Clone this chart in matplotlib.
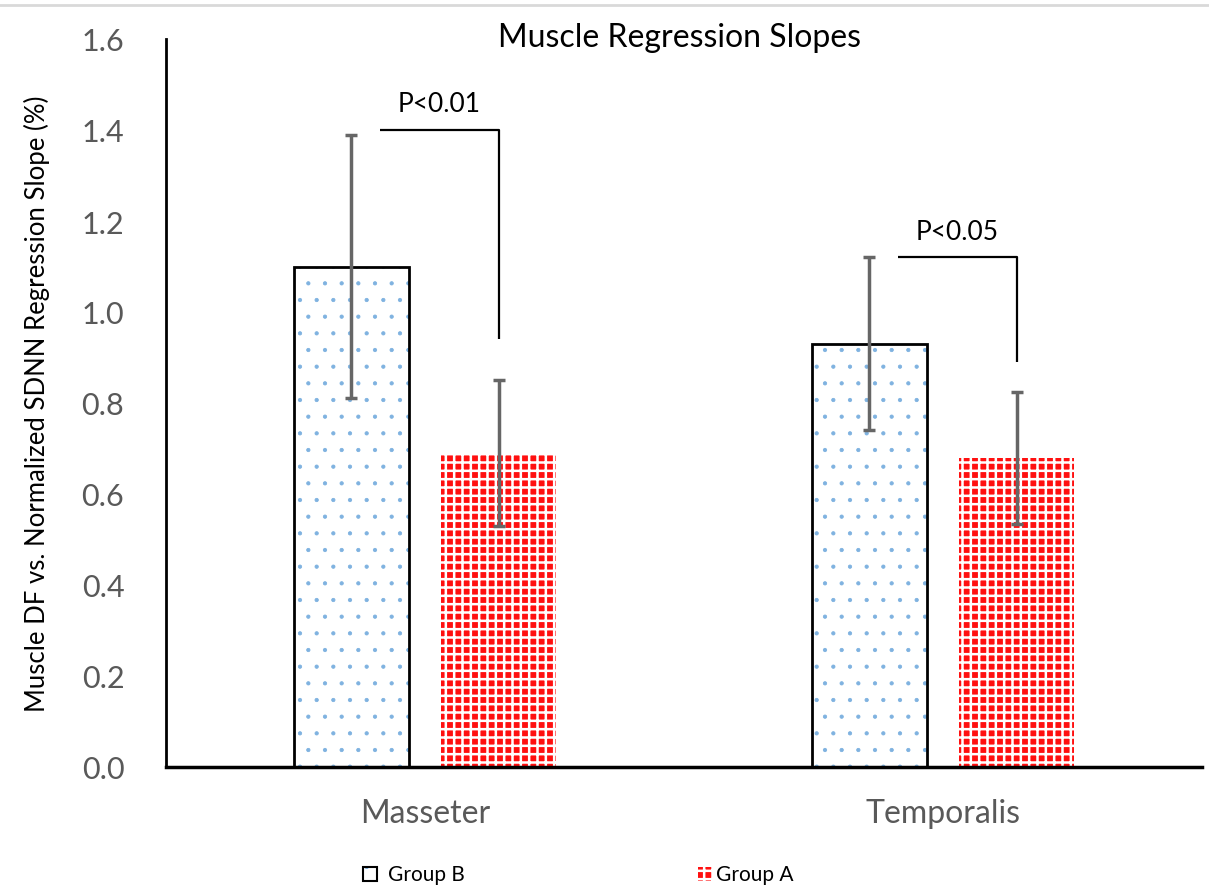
import matplotlib
matplotlib.use("Agg")
import matplotlib.pyplot as plt
from matplotlib.patches import Rectangle
from matplotlib.lines import Line2D
import numpy as np

plt.rcParams['font.family'] = ['Lato', 'DejaVu Sans']

# Data
categories = ["Masseter", "Temporalis"]
group_b = [1.10, 0.93]
group_b_err = [0.29, 0.19]
group_a = [0.69, 0.68]
group_a_err = [0.16, 0.145]
p_labels = ["P<0.01", "P<0.05"]
bracket_y = [1.40, 1.12]
bracket_end = [0.94, 0.89]
yticks = [0.0, 0.2, 0.4, 0.6, 0.8, 1.0, 1.2, 1.4, 1.6]

W, H = 1209, 895
fig = plt.figure(figsize=(W / 100, H / 100), dpi=100)
fig.patch.set_facecolor('white')
ax = fig.add_axes([166 / W, 1 - 768 / H, (1202 - 166) / W, (768 - 40) / H])

x = np.arange(len(categories))
bw = 0.222
off = 0.142
xb = x - off
xa = x + off

blue_dot = '#7fb2e0'
red = '#ff1010'
err_col = '#666666'


def set_hlw(patches, lw):
    for p in patches:
        if hasattr(p, 'set_hatch_linewidth'):
            p.set_hatch_linewidth(lw)


# Group B: white bars with blue dot texture and black outline
with plt.rc_context({'hatch.linewidth': 0.6}):
    bars_b = ax.bar(xb, group_b, bw, color='white', edgecolor=blue_dot, hatch='.',
                    linewidth=0, zorder=2)
set_hlw(bars_b, 0.6)
ax.bar(xb, group_b, bw, color='none', edgecolor='black', linewidth=2.0, zorder=3)
# Group A: red bars with white cross texture
with plt.rc_context({'hatch.linewidth': 1.8}):
    bars_a = ax.bar(xa, group_a, bw, color=red, edgecolor='white', hatch='++',
                    linewidth=0, zorder=2)
set_hlw(bars_a, 1.8)

ax.errorbar(xb, group_b, yerr=group_b_err, fmt='none', ecolor=err_col, elinewidth=2.5,
            capsize=4, capthick=2.5, zorder=4)
ax.errorbar(xa, group_a, yerr=group_a_err, fmt='none', ecolor=err_col, elinewidth=2.5,
            capsize=4, capthick=2.5, zorder=4)

# Significance brackets
for i in range(len(categories)):
    x0 = xb[i] + 0.055
    x1 = xa[i]
    ax.plot([x0, x1, x1], [bracket_y[i], bracket_y[i], bracket_end[i]], color='black',
            lw=1.6, zorder=5, solid_capstyle='butt')
    ax.text((x0 + x1) / 2, bracket_y[i] + 0.03, p_labels[i], ha='center', va='bottom',
            fontsize=19, color='black')

ax.set_xlim(-0.5, 1.5)
ax.set_ylim(0, 1.6)
ax.set_yticks(yticks)
ax.set_yticklabels([f"{v:.1f}" for v in yticks])
ax.set_xticks(x)
ax.set_xticklabels(categories)
ax.tick_params(axis='y', length=0, labelsize=22, labelcolor='#595959', pad=30)
ax.tick_params(axis='x', length=0, labelsize=23, labelcolor='#595959', pad=22)
for s in ['top', 'right']:
    ax.spines[s].set_visible(False)
ax.spines['left'].set_linewidth(2.0)
ax.spines['bottom'].set_linewidth(2.5)

ax.set_ylabel("Muscle DF vs. Normalized SDNN Regression Slope (%)", fontsize=18.5,
              color='black')
ax.yaxis.set_label_coords(-0.112, 0.5)

fig.text(680 / W, 1 - 38 / H, "Muscle Regression Slopes", ha='center', va='center',
         fontsize=23, color='black')

# Legend drawn in figure coordinates
sq = 14
leg_b = Rectangle((363 / W, 1 - 882 / H), sq / W, sq / H, transform=fig.transFigure,
                  facecolor='white', edgecolor=blue_dot, hatch='.', lw=0)
fig.patches.append(leg_b)
fig.patches.append(Rectangle((363 / W, 1 - 882 / H), sq / W, sq / H, transform=fig.transFigure,
                             facecolor='none', edgecolor='black', lw=1.5))
fig.text(388 / W, 1 - 875 / H, "Group B", ha='left', va='center', fontsize=15, color='black')
with plt.rc_context({'hatch.linewidth': 1.8}):
    leg_a = Rectangle((698 / W, 1 - 882 / H), sq / W, sq / H, transform=fig.transFigure,
                      facecolor=red, edgecolor='white', hatch='++', lw=0)
set_hlw([leg_a], 1.8)
fig.patches.append(leg_a)
fig.text(716 / W, 1 - 875 / H, "Group A", ha='left', va='center', fontsize=15, color='black')

# Thin grey rule along the top edge
fig.lines.append(Line2D([0, 1], [1 - 6 / H, 1 - 6 / H], transform=fig.transFigure,
                        color='#d9d9d9', lw=2))

fig.savefig("out.png", dpi=100, facecolor='white')
